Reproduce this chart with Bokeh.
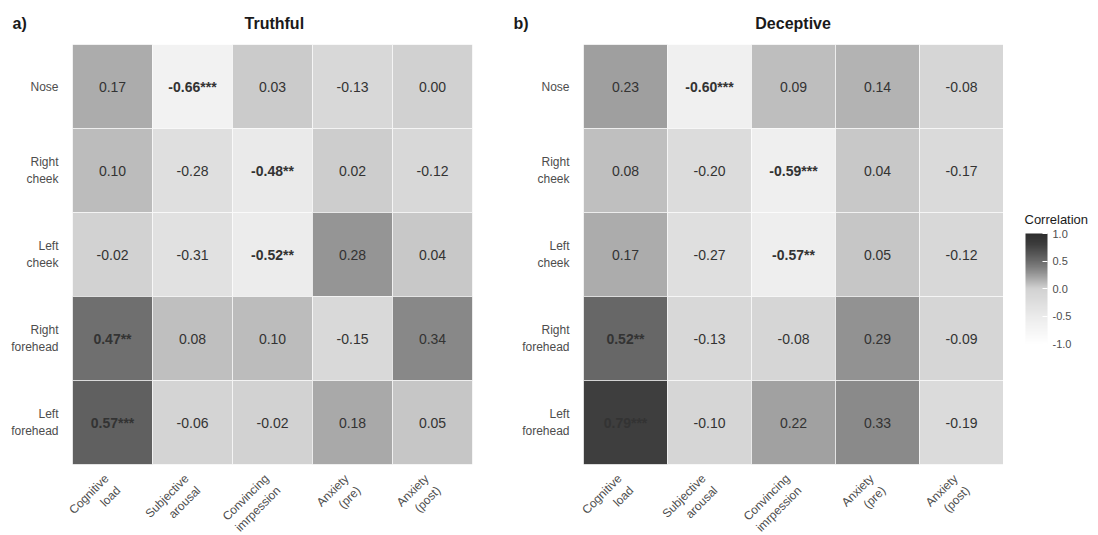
import numpy as np
from bokeh.plotting import figure
from bokeh.models import (ColumnDataSource, FactorRange, LinearColorMapper, ColorBar,
                          FixedTicker, PrintfTickFormatter)
from bokeh.layouts import row
from bokeh.embed import file_html
from bokeh.resources import INLINE
from bokeh.core.properties import value

# ---------------- data ----------------
column_lines = [("Cognitive", "load"), ("Subjective", "arousal"), ("Convincing", "imrpession"),
                ("Anxiety", "(pre)"), ("Anxiety", "(post)")]
row_lines = [("Nose",), ("Right", "cheek"), ("Left", "cheek"), ("Right", "forehead"),
             ("Left", "forehead")]

truthful_nose = [0.17, -0.66, 0.03, -0.13, 0.00]
truthful_right_cheek = [0.10, -0.28, -0.48, 0.02, -0.12]
truthful_left_cheek = [-0.02, -0.31, -0.52, 0.28, 0.04]
truthful_right_forehead = [0.47, 0.08, 0.10, -0.15, 0.34]
truthful_left_forehead = [0.57, -0.06, -0.02, 0.18, 0.05]

truthful_stars_nose = ["", "***", "", "", ""]
truthful_stars_right_cheek = ["", "", "**", "", ""]
truthful_stars_left_cheek = ["", "", "**", "", ""]
truthful_stars_right_forehead = ["**", "", "", "", ""]
truthful_stars_left_forehead = ["***", "", "", "", ""]

deceptive_nose = [0.23, -0.60, 0.09, 0.14, -0.08]
deceptive_right_cheek = [0.08, -0.20, -0.59, 0.04, -0.17]
deceptive_left_cheek = [0.17, -0.27, -0.57, 0.05, -0.12]
deceptive_right_forehead = [0.52, -0.13, -0.08, 0.29, -0.09]
deceptive_left_forehead = [0.79, -0.10, 0.22, 0.33, -0.19]

deceptive_stars_nose = ["", "***", "", "", ""]
deceptive_stars_right_cheek = ["", "", "***", "", ""]
deceptive_stars_left_cheek = ["", "", "**", "", ""]
deceptive_stars_right_forehead = ["**", "", "", "", ""]
deceptive_stars_left_forehead = ["***", "", "", "", ""]

colorbar_title = "Correlation"
colorbar_ticks = [-1.0, -0.5, 0.0, 0.5, 1.0]

truthful = [truthful_nose, truthful_right_cheek, truthful_left_cheek,
            truthful_right_forehead, truthful_left_forehead]
truthful_stars = [truthful_stars_nose, truthful_stars_right_cheek, truthful_stars_left_cheek,
                  truthful_stars_right_forehead, truthful_stars_left_forehead]
deceptive = [deceptive_nose, deceptive_right_cheek, deceptive_left_cheek,
             deceptive_right_forehead, deceptive_left_forehead]
deceptive_stars = [deceptive_stars_nose, deceptive_stars_right_cheek, deceptive_stars_left_cheek,
                   deceptive_stars_right_forehead, deceptive_stars_left_forehead]

# ---------------- styling helpers ----------------
FONT = "Liberation Sans"
TOP = 43
FH = 420
NBSP = "\u00a0"
# Liberation Sans advance widths (em), used to right-justify the two-line labels
ADV = {c: w for w, cs in [(0.222, "ijl"), (0.278, "ft "), (0.333, "r()"), (0.5, "csvkxy"),
                          (0.556, "abdeghnopqu"), (0.611, "L"), (0.667, "AS"),
                          (0.722, "CNR"), (0.833, "m")] for c in cs}


def text_w(s):
    return sum(ADV.get(ch, 0.556) for ch in s)


def right_justify(lines):
    if len(lines) == 1:
        return lines[0]
    wmax = max(text_w(s) for s in lines)
    out = []
    for s in lines:
        n = int(round((wmax - text_w(s)) / 0.278))
        out.append(NBSP * n + s)
    return "\n".join(out)


columns = [right_justify(l) for l in column_lines]
rows = [right_justify(l) for l in row_lines]

# ---------------- palette (grey ramp) ----------------
anchor_v = [-1.0, -0.6, -0.3, 0.0, 0.1, 0.2, 0.3, 0.4, 0.5, 0.6, 0.8, 1.0]
anchor_g = [255, 240, 225, 210, 188, 166, 145, 125, 107, 92, 62, 46]
grid_v = np.linspace(-1, 1, 256)
grid_g = np.interp(grid_v, anchor_v, anchor_g)
palette = ["#%02x%02x%02x" % (int(g), int(g), int(g)) for g in grid_g]
mapper = LinearColorMapper(palette=palette, low=-1, high=1)


def make_source(vals, stars):
    xs, ys, v, txt, weight = [], [], [], [], []
    for i, r in enumerate(rows):
        for j, c in enumerate(columns):
            xs.append(c)
            ys.append(r)
            v.append(vals[i][j])
            txt.append(f"{vals[i][j]:.2f}{stars[i][j]}")
            weight.append("bold" if stars[i][j] else "normal")
    return ColumnDataSource(dict(x=xs, y=ys, v=v, txt=txt, weight=weight))


def make_panel(vals, stars, title, tag, gap, fw, left_border, right_border, tag_offset):
    p = figure(x_range=FactorRange(*columns), y_range=FactorRange(*rows[::-1]),
               frame_width=fw, frame_height=FH,
               min_border_left=left_border, min_border_right=right_border,
               min_border_top=TOP, min_border_bottom=60,
               output_backend="svg", toolbar_location=None, tools="")
    src = make_source(vals, stars)
    p.rect(x="x", y="y", width=1, height=1, source=src,
           fill_color={"field": "v", "transform": mapper},
           line_color="white", line_width=0.6)
    p.text(x="x", y="y", text="txt", source=src, text_align="center",
           text_baseline="middle", text_font=value(FONT), text_font_size="14px",
           text_font_style="weight", text_color="#333333")
    # panel tag and title share one heading line
    p.title.text = tag + NBSP * gap + title
    p.title.align = "left"
    p.title.offset = tag_offset
    p.title.text_font = FONT
    p.title.text_font_size = "16px"
    p.title.text_color = "#1a1a1a"
    p.title.text_font_style = "bold"
    p.title.standoff = 25
    p.xgrid.visible = False
    p.ygrid.visible = False
    p.outline_line_color = None
    for ax in (p.xaxis, p.yaxis):
        ax.axis_line_color = None
        ax.major_tick_line_color = None
        ax.minor_tick_line_color = None
        ax.major_label_text_font = FONT
        ax.major_label_text_font_size = "12px"
        ax.major_label_text_color = "#4d4d4d"
    p.xaxis.major_label_orientation = np.pi / 4
    p.xaxis.major_label_standoff = 12
    p.yaxis.major_label_standoff = 8
    return p


pa = make_panel(truthful, truthful_stars, "Truthful", "a)", 49, 400, 72, 28, -60)
pb = make_panel(deceptive, deceptive_stars, "Deceptive", "b)", 51, 420, 83, 0, -70)

# ---------------- colour bar ----------------
pc = figure(x_range=(0, 87), y_range=(0, FH), frame_width=87, frame_height=FH,
            min_border_left=0, min_border_right=0, min_border_top=TOP,
            min_border_bottom=60, x_axis_type=None, y_axis_type=None,
            output_backend="svg", toolbar_location=None, tools="")
pc.xgrid.visible = False
pc.ygrid.visible = False
pc.outline_line_color = None
pc.text(x=[21], y=[245], text=[colorbar_title], text_font=value(FONT),
        text_font_size="13px", text_baseline="middle", text_align="left",
        text_color="#1a1a1a")
cb = ColorBar(color_mapper=mapper, width=22, height=110,
              ticker=FixedTicker(ticks=colorbar_ticks),
              formatter=PrintfTickFormatter(format="%.1f"),
              major_label_text_font=FONT, major_label_text_font_size="11px",
              major_label_text_color="#4d4d4d", label_standoff=5,
              major_tick_line_color="white", major_tick_in=5, major_tick_out=0,
              bar_line_color=None, border_line_color=None, background_fill_color=None,
              padding=0, location=(22, 121))
pc.add_layout(cb, "center")

layout = row(pa, pb, pc)
open("out.html", "w").write(file_html(layout, INLINE))
